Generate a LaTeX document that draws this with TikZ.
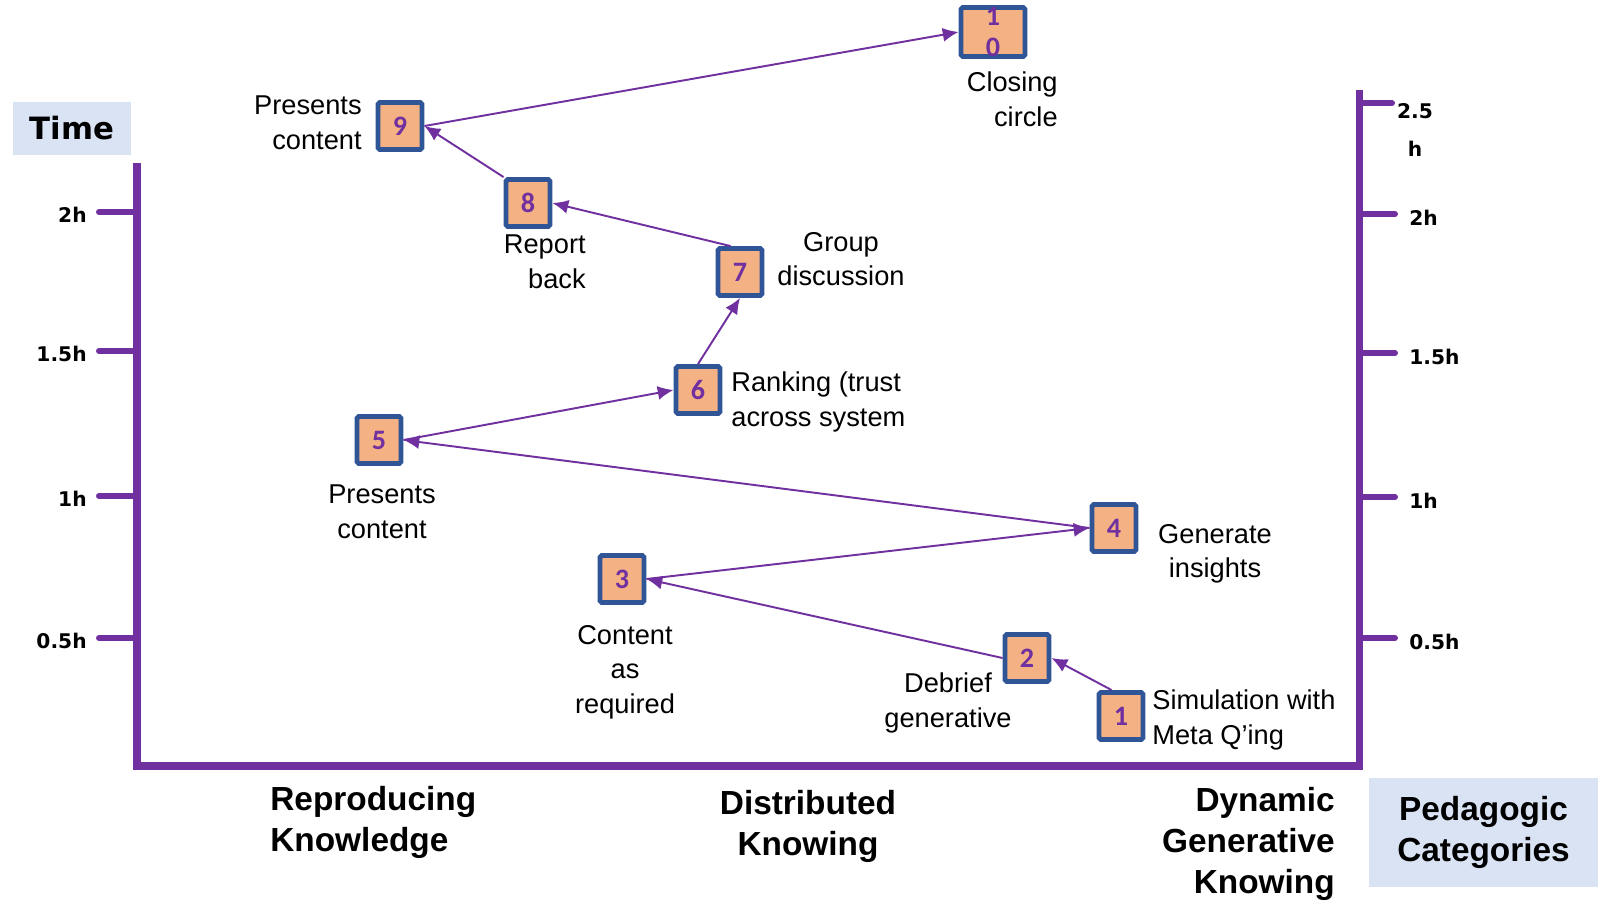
\documentclass[tikz,border=0pt]{standalone}
\usepackage{fontspec}
\setmainfont{Liberation Sans}
\newfontfamily\numfont{Carlito}
\newfontfamily\tickfont{DejaVu Sans}
\usepackage{tikz}
\usetikzlibrary{positioning,arrows.meta}

\definecolor{axispurple}{HTML}{7030A0}
\definecolor{boxblue}{HTML}{2F5597}
\definecolor{boxfill}{HTML}{F4B183}
\definecolor{headblue}{HTML}{DAE3F3}

\tikzset{
  stepbox/.style={draw=boxblue, fill=boxfill, line width=2.8pt, rounded corners=1pt,
    minimum width=0.88cm, minimum height=0.94cm, inner sep=0pt,
    font=\numfont\bfseries\fontsize{16}{17.4}\selectfont, text=axispurple},
  note/.style={font=\fontsize{15.5}{19.7}\selectfont, align=center, inner sep=0pt},
  category/.style={font=\bfseries\fontsize{19}{23.3}\selectfont, inner sep=0pt},
  headbox/.style={fill=headblue, inner sep=0pt, align=center},
  ticklabel/.style={font=\tickfont\bfseries\fontsize{11.5}{22}\selectfont, inner sep=0pt},
  axisline/.style={draw=axispurple, line width=4pt},
  axistick/.style={draw=axispurple, line width=3.4pt, line cap=round},
  flow/.style={draw=axispurple, line width=1.1pt, -{Latex[length=9pt,width=8pt]}}
}

\begin{document}
\begin{tikzpicture}[x=0.02cm,y=-0.02cm]
\useasboundingbox (0,0) rectangle (1598,906);

% axes
\coordinate (ltop) at (137,163);
\coordinate (origin) at (137,766);
\coordinate (rbottom) at (1359,766);
\coordinate (rtop) at (1359,90);
\draw[axisline] (ltop) -- (origin) -- (rbottom) -- (rtop);

\foreach \y/\lab in {212/2h, 351/1.5h, 496/1h, 638/0.5h} {
    \draw[axistick] (99,\y) -- (137,\y);
    \node[ticklabel, anchor=east] at (87,\y+3) {\lab};
}
\foreach \y/\lab in {214/2h, 353/1.5h, 497/1h, 638/0.5h} {
    \draw[axistick] (1359,\y) -- (1395,\y);
    \node[ticklabel, anchor=west] at (1409,\y+4) {\lab};
}
\draw[axistick] (1359,103) -- (1392,103);
\node[ticklabel, align=center] (top) at (1415,130) {2.5\\h};

\node[headbox, minimum width=2.37cm, minimum height=1.06cm,
      font=\tickfont\bfseries\fontsize{17.5}{20}\selectfont] (time) at (72,128.5) {Time};
\node[headbox, minimum width=4.58cm, minimum height=2.18cm,
      font=\bfseries\fontsize{19}{23.3}\selectfont] (ped) at (1483.5,832.5) {Pedagogic\\Categories};

% steps
\foreach \n/\x/\y in {1/1121/716, 2/1027/658, 3/622/579, 4/1114/528, 5/379/440,
                      6/698/390, 7/740/272, 8/528/203, 9/400/126} {
    \node[stepbox] (b\n) at (\x,\y) {\n};
}
\node[stepbox, minimum width=1.28cm, align=center] (b10) at (993,32) {1\\0};

\draw[flow] (b1.110) -- (b2.east);
\draw[flow] (b2.west) -- (b3.east);
\draw[flow] (b3.east) -- (b4.west);
\draw[flow] (b4.west) -- (b5.east);
\draw[flow] (b5.east) -- (b6.west);
\draw[flow] (b6.north) -- (b7.south);
\draw[flow] (b7.110) -- (b8.east);
\draw[flow] (b8.north west) -- (b9.east);
\draw[flow] (b9.east) -- (b10.west);

% step labels
\node[note, align=left, anchor=west] (l1) at (1152,720) {Simulation with\\Meta Q’ing};
\node[note] (l2) at (948,703) {Debrief\\generative};
\node[note] (l3) at (625,672) {Content\\as\\required};
\node[note] (l4) at (1215,554) {Generate\\insights};
\node[note] (l5) at (382,512) {Presents\\content};
\node[note, align=left, anchor=west] (l6) at (731,402) {Ranking (trust\\across system};
\node[note] (l7) at (841,259) {Group\\discussion};
\node[note, align=right, anchor=east] (l8) at (586,262) {Report\\back};
\node[note, align=right, anchor=east] (l9) at (362,123) {Presents\\content};
\node[note, align=right, anchor=east] (l10) at (1058,99) {Closing\\circle};

% categories
\node[category, align=left, anchor=west] (cat1) at (270,822) {Reproducing\\Knowledge};
\node[category, align=center] (cat2) at (808,826) {Distributed\\Knowing};
\node[category, align=right, anchor=east] (cat3) at (1335,844) {Dynamic\\Generative\\Knowing};
\end{tikzpicture}
\end{document}
